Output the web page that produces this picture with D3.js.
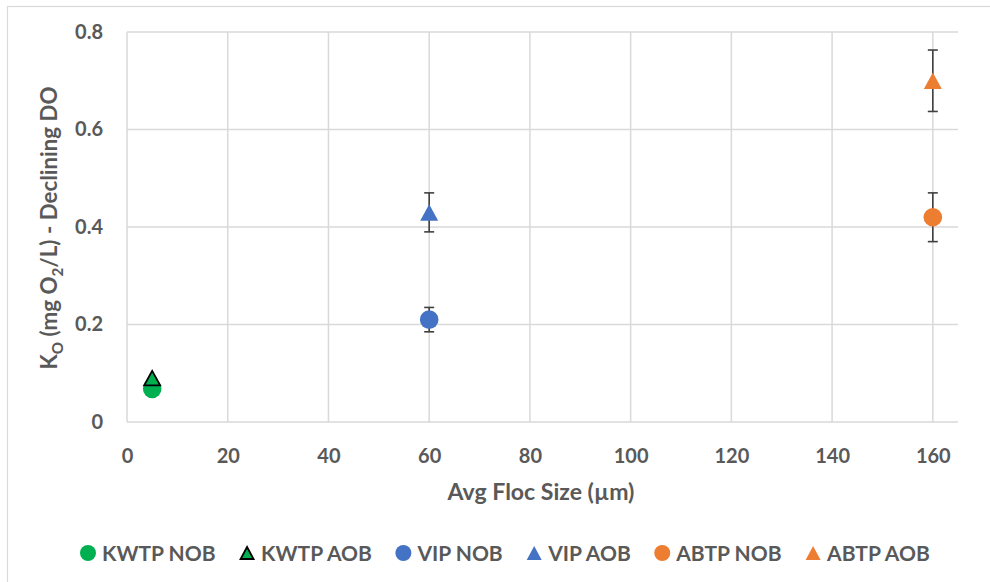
<!DOCTYPE html>
<html>
<head>
<meta charset="utf-8">
<script src="https://cdn.jsdelivr.net/npm/d3@7"></script>
<style>
  html, body { margin: 0; padding: 0; background: #fff; }
  svg { display: block; font-family: Lato, "Open Sans", sans-serif; }
</style>
</head>
<body>
<svg id="chart" width="990" height="582"></svg>
<script>
// Half-saturation constant for oxygen vs. average floc size, per plant and culture
const seriesNames = ["KWTP NOB", "KWTP AOB", "VIP NOB", "VIP AOB", "ABTP NOB", "ABTP AOB"];
const flocSize    = [5, 5, 60, 60, 160, 160];
const koValues    = [0.068, 0.09, 0.21, 0.43, 0.42, 0.70];
const koErrors    = [0, 0, 0.025, 0.04, 0.05, 0.063];
const xTicks = [0, 20, 40, 60, 80, 100, 120, 140, 160];
const yTicks = [0, 0.2, 0.4, 0.6, 0.8];

// Marker styling per series
const seriesColors  = ["#00B050", "#00B050", "#4472C4", "#4472C4", "#ED7D31", "#ED7D31"];
const seriesShapes  = ["circle", "triangle", "circle", "triangle", "circle", "triangle"];
const seriesStrokes = [null, "#000000", null, null, null, null];

const textColor = "#595959";
const gridColor = "#D9D9D9";

const svg = d3.select("#chart");
svg.append("rect").attr("width", 990).attr("height", 582).attr("fill", "#fff");

// outer chart frame
svg.append("rect")
  .attr("x", 7.5).attr("y", 6.5).attr("width", 1000).attr("height", 600)
  .attr("fill", "none").attr("stroke", gridColor).attr("stroke-width", 1.2);

const plot = { left: 127, right: 958, top: 32, bottom: 422 };

const x = d3.scaleLinear().domain([0, 165]).range([plot.left, plot.right]);
const y = d3.scaleLinear().domain([0, 0.8]).range([plot.bottom, plot.top]);

// gridlines
const g = svg.append("g");
g.selectAll("line.h").data(yTicks.filter(d => d > 0)).join("line")
  .attr("x1", plot.left).attr("x2", plot.right)
  .attr("y1", d => y(d)).attr("y2", d => y(d))
  .attr("stroke", gridColor).attr("stroke-width", 1.5);
g.selectAll("line.v").data(xTicks.filter(d => d > 0)).join("line")
  .attr("y1", plot.top).attr("y2", plot.bottom)
  .attr("x1", d => x(d)).attr("x2", d => x(d))
  .attr("stroke", gridColor).attr("stroke-width", 1.5);

// axes
const xAxis = svg.append("g").attr("transform", `translate(0,${plot.bottom})`)
  .call(d3.axisBottom(x).tickValues(xTicks).tickSize(0).tickPadding(27).tickFormat(d3.format("d")));
const yAxis = svg.append("g").attr("transform", `translate(${plot.left},0)`)
  .call(d3.axisLeft(y).tickValues(yTicks).tickSize(0).tickPadding(24)
    .tickFormat(d => d === 0 ? "0" : d.toFixed(1)));
[xAxis, yAxis].forEach(a => {
  a.select(".domain").attr("stroke", gridColor).attr("stroke-width", 1.5);
  a.selectAll("text").attr("fill", textColor).attr("font-size", 20)
    .attr("font-weight", 700).attr("font-family", "Lato, sans-serif");
});
xAxis.select(".domain").attr("d", `M${plot.left},0H${plot.right}`);
yAxis.select(".domain").attr("d", `M0,${plot.bottom}V${plot.top}`);

// scale a title's font so it spans the wanted length
function fitFont(textSel, base, wanted) {
  textSel.attr("font-size", base);
  const len = textSel.node().getComputedTextLength();
  const size = base * wanted / len;
  textSel.attr("font-size", size);
  return size;
}

// x axis title
const xTitle = svg.append("text")
  .attr("x", 541).attr("y", 500)
  .attr("text-anchor", "middle").attr("fill", textColor)
  .attr("font-weight", 700)
  .text("Avg Floc Size (µm)");
fitFont(xTitle, 21, 187);

// y axis title with subscripts
const yTitle = svg.append("text")
  .attr("text-anchor", "start").attr("fill", textColor)
  .attr("font-weight", 700);
const parts = [["K", false], ["O", true], [" (mg O", false], ["2", true], ["/L) - Declining DO", false]];
parts.forEach(([txt, sub]) => {
  yTitle.append("tspan").attr("class", sub ? "sub" : "main").text(txt);
});
function styleYTitle(size) {
  yTitle.attr("font-size", size);
  yTitle.selectAll("tspan.sub").attr("font-size", size * 0.68).attr("dy", size * 0.28);
  yTitle.selectAll("tspan.main").filter((d, i) => i > 0).attr("dy", -size * 0.28);
}
styleYTitle(19);
const yLen0 = yTitle.node().getComputedTextLength();
const ySize = 19 * 283 / yLen0;
styleYTitle(ySize);
const yLen = yTitle.node().getComputedTextLength();
yTitle.attr("transform", `translate(57,${228 + yLen / 2}) rotate(-90)`);

// marker path helper
function triangle(w, h) {
  return `M0,${-h / 2}L${w / 2},${h / 2}L${-w / 2},${h / 2}Z`;
}
function drawMarker(sel, i, big) {
  if (seriesShapes[i] === "circle") {
    sel.append("circle").attr("r", big ? 9.3 : 8).attr("fill", seriesColors[i]);
  } else {
    const w = big ? 18 : 15, h = big ? 16.5 : 14;
    sel.append("path").attr("d", triangle(seriesStrokes[i] ? w - 2 : w, seriesStrokes[i] ? h - 2 : h))
      .attr("fill", seriesColors[i])
      .attr("stroke", seriesStrokes[i] || "none")
      .attr("stroke-width", 1.8).attr("stroke-linejoin", "miter");
  }
}

const idx = d3.range(seriesNames.length);

// error bars
const eb = svg.append("g").attr("stroke", "#404040").attr("stroke-width", 1.6);
idx.filter(i => koErrors[i] > 0).forEach(i => {
  const cx = x(flocSize[i]), top = y(koValues[i] + koErrors[i]), bot = y(koValues[i] - koErrors[i]);
  eb.append("line").attr("x1", cx).attr("x2", cx).attr("y1", top).attr("y2", bot);
  eb.append("line").attr("x1", cx - 5).attr("x2", cx + 5).attr("y1", top).attr("y2", top);
  eb.append("line").attr("x1", cx - 5).attr("x2", cx + 5).attr("y1", bot).attr("y2", bot);
});

// data markers (circles first, triangles over them)
const order = idx.filter(i => seriesShapes[i] === "circle").concat(idx.filter(i => seriesShapes[i] !== "circle"));
order.forEach(i => {
  const m = svg.append("g").attr("transform", `translate(${x(flocSize[i])},${y(koValues[i])})`);
  drawMarker(m, i, true);
});

// legend, laid out left to right under the plot
const legend = svg.append("g").attr("transform", "translate(88,0)");
let cursor = 0;
idx.forEach(i => {
  const item = legend.append("g");
  drawMarker(item, i, false);
  const t = item.append("text").attr("x", 14).attr("y", 7.5)
    .attr("fill", textColor).attr("font-size", 21).attr("font-weight", 700)
    .text(seriesNames[i]);
  const w = t.node().getComputedTextLength();
  item.attr("transform", `translate(${cursor},553)`);
  cursor += 14 + w + 31.5;
});
</script>
</body>
</html>
